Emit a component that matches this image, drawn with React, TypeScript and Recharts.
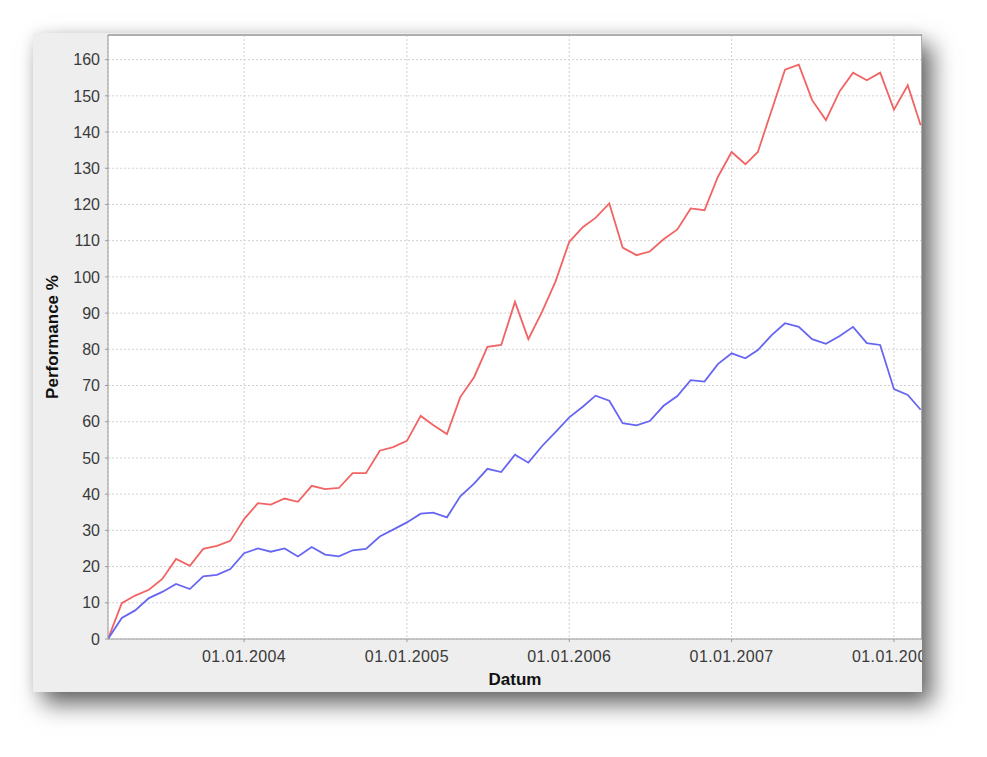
import { LineChart, Line, XAxis, YAxis, CartesianGrid, ReferenceLine } from "recharts";

// monthly observations, March 2003 - March 2008
const months = [
  "2003-03", "2003-04", "2003-05", "2003-06", "2003-07", "2003-08", "2003-09", "2003-10", "2003-11", "2003-12",
  "2004-01", "2004-02", "2004-03", "2004-04", "2004-05", "2004-06", "2004-07", "2004-08", "2004-09", "2004-10",
  "2004-11", "2004-12", "2005-01", "2005-02", "2005-03", "2005-04", "2005-05", "2005-06", "2005-07", "2005-08",
  "2005-09", "2005-10", "2005-11", "2005-12", "2006-01", "2006-02", "2006-03", "2006-04", "2006-05", "2006-06",
  "2006-07", "2006-08", "2006-09", "2006-10", "2006-11", "2006-12", "2007-01", "2007-02", "2007-03", "2007-04",
  "2007-05", "2007-06", "2007-07", "2007-08", "2007-09", "2007-10", "2007-11", "2007-12", "2008-01", "2008-02",
  "2008-03",
];

// red series
const redPerf = [
  0, 9.9, 12.0, 13.6, 16.6, 22.1, 20.2, 24.9, 25.7, 27.1,
  33.1, 37.5, 37.1, 38.8, 37.9, 42.3, 41.4, 41.7, 45.8, 45.8,
  52.0, 53.0, 54.7, 61.6, 59.1, 56.6, 66.8, 72.3, 80.7, 81.2,
  93.1, 82.8, 90.4, 98.7, 109.7, 113.8, 116.3, 120.3, 108.1, 106.0,
  107.0, 110.4, 113.1, 118.9, 118.4, 127.6, 134.5, 131.1, 134.5, 146.0,
  157.2, 158.6, 148.8, 143.3, 151.3, 156.4, 154.3, 156.4, 146.2, 152.9,
  141.9,
];

// blue series
const bluePerf = [
  0, 5.8, 7.9, 11.3, 13.0, 15.2, 13.8, 17.3, 17.7, 19.3,
  23.7, 25.0, 24.1, 25.0, 22.8, 25.4, 23.3, 22.8, 24.5, 24.9,
  28.3, 30.2, 32.2, 34.6, 34.9, 33.6, 39.4, 42.9, 47.0, 46.1,
  50.9, 48.7, 53.3, 57.1, 61.2, 64.2, 67.2, 65.8, 59.6, 59.0,
  60.2, 64.4, 67.1, 71.5, 71.1, 75.9, 78.9, 77.5, 79.8, 83.9,
  87.2, 86.2, 82.8, 81.5, 83.7, 86.2, 81.7, 81.2, 69.0, 67.4,
  63.3,
];

const yTicks = [0, 10, 20, 30, 40, 50, 60, 70, 80, 90, 100, 110, 120, 130, 140, 150, 160];
const xTickYears = [2004, 2005, 2006, 2007, 2008];

const toTs = (m: string) => Date.UTC(+m.slice(0, 4), +m.slice(5, 7) - 1, 1);

const data = months.map((m, i) => ({ t: toTs(m), red: redPerf[i], blue: bluePerf[i] }));
const xTicks = xTickYears.map((y) => Date.UTC(y, 0, 1));
const X_START = Date.UTC(2003, 2, 1);
const X_END = Date.UTC(2008, 2, 4);
const Y_MAX = 166.8;

const fmtDate = (v: number) => {
  const d = new Date(v);
  const dd = String(d.getUTCDate()).padStart(2, "0");
  const mm = String(d.getUTCMonth() + 1).padStart(2, "0");
  return `${dd}.${mm}.${d.getUTCFullYear()}`;
};

const font = "'Liberation Sans', Arial, sans-serif";
const axisGrey = "#9a9a9a";

export default function App() {
  return (
    <div style={{ position: "absolute", left: 0, top: 0, width: 987, height: 757, background: "#fff", fontFamily: font }}>
      <div
        style={{
          position: "absolute",
          left: 33,
          top: 33,
          width: 889,
          height: 659,
          background: "#eeeeee",
          overflow: "hidden",
          boxShadow: "10px 12px 22px rgba(0,0,0,0.6), 0 0 12px rgba(0,0,0,0.08)",
        }}
      >
        <LineChart width={889} height={659} data={data} margin={{ top: 2, right: 0, bottom: 23, left: 15 }}>
          <CartesianGrid stroke="#d2d2d2" strokeDasharray="2 2" fill="#ffffff" />
          <XAxis
            dataKey="t"
            type="number"
            domain={[X_START, X_END]}
            allowDataOverflow
            ticks={xTicks}
            interval={0}
            tickFormatter={fmtDate}
            height={30}
            tickSize={3}
            tickMargin={9}
            stroke={axisGrey}
            tick={{ fill: "#3a3a3a", fontSize: 16, letterSpacing: 0.4, fontFamily: font }}
          />
          <YAxis
            type="number"
            domain={[0, Y_MAX]}
            allowDataOverflow
            ticks={yTicks}
            interval={0}
            width={60}
            tickSize={3}
            tickMargin={5}
            stroke={axisGrey}
            tick={{ fill: "#3a3a3a", fontSize: 16, fontFamily: font }}
          />
          <ReferenceLine y={Y_MAX} stroke={axisGrey} strokeWidth={1.5} />
          <ReferenceLine x={X_END} stroke={axisGrey} strokeWidth={1.5} />
          <Line type="linear" dataKey="red" stroke="#f26464" strokeWidth={1.8} dot={false} isAnimationActive={false} />
          <Line type="linear" dataKey="blue" stroke="#6666f2" strokeWidth={1.8} dot={false} isAnimationActive={false} />
        </LineChart>
        <div
          style={{
            position: "absolute",
            left: 19.5,
            top: 304,
            transform: "translate(-50%, -50%) rotate(-90deg)",
            fontWeight: "bold",
            fontSize: 17,
            color: "#111",
            whiteSpace: "nowrap",
          }}
        >
          Performance %
        </div>
        <div
          style={{
            position: "absolute",
            left: 482,
            top: 647,
            transform: "translate(-50%, -50%)",
            fontWeight: "bold",
            fontSize: 17,
            color: "#111",
            whiteSpace: "nowrap",
          }}
        >
          Datum
        </div>
      </div>
    </div>
  );
}
